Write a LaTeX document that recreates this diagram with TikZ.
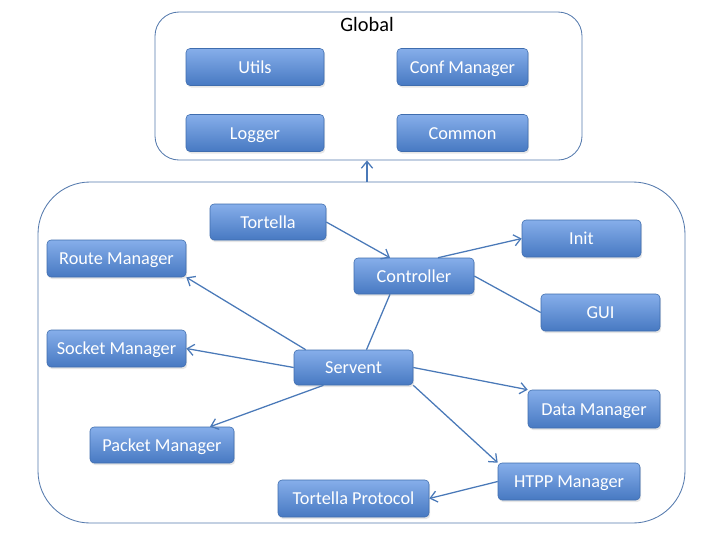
\documentclass[tikz,border=0pt]{standalone}
\usepackage{fontspec}
\setmainfont{Carlito}
\usetikzlibrary{arrows.meta,shadows}

\definecolor{boxtop}{HTML}{86AEEA}
\definecolor{boxbottom}{HTML}{4779C2}
\definecolor{boxline}{HTML}{3F6DAE}
\definecolor{linkblue}{HTML}{4A79B8}

\begin{document}
\begin{tikzpicture}
	[auto,font=\fontsize{13}{15}\selectfont]
	\tikzstyle{module}=[rectangle, rounded corners=0.1cm, draw=boxline, line width=0.4pt,
		top color=boxtop, bottom color=boxbottom, text=white,
		minimum height=0.925cm, inner sep=1pt, text height=2.1ex, text depth=0.2ex,
		drop shadow={opacity=0.2, shadow xshift=0.03cm, shadow yshift=-0.05cm}];
	\tikzstyle{group}=[rectangle, draw=linkblue!80!gray, line width=0.6pt, inner sep=0pt];
	\tikzstyle{link}=[draw=linkblue, line width=0.9pt];
	\tikzstyle{arrow}=[link, -{Straight Barb[length=1.7mm, width=2.8mm]}];

	\useasboundingbox (0,0) rectangle (18,-13.5);

	% containers
	\node[group, rounded corners=0.6cm, minimum width=10.675cm, minimum height=3.7cm] (global) at (9.2125,-2.15) {};
	\node[group, rounded corners=1.3cm, minimum width=16.175cm, minimum height=8.525cm] (main) at (9.0375,-8.8125) {};
	\node[font=\fontsize{14.5}{16}\selectfont] (globallabel) at (9.175,-0.62) {Global};

	% global modules
	\node[module, minimum width=3.45cm] (utils) at (6.375,-1.675) {Utils};
	\node[module, minimum width=3.275cm] (conf) at (11.5625,-1.675) {Conf Manager};
	\node[module, minimum width=3.45cm] (logger) at (6.375,-3.325) {Logger};
	\node[module, minimum width=3.275cm] (common) at (11.5625,-3.325) {Common};

	% main modules
	\node[module, minimum width=2.9cm, minimum height=0.9cm] (tortella) at (6.7,-5.55) {Tortella};
	\node[module, minimum width=3cm, minimum height=0.9cm] (controller) at (10.35,-6.9) {Controller};
	\node[module, minimum width=2.975cm] (init) at (14.5375,-5.9625) {Init};
	\node[module, minimum width=2.975cm] (gui) at (15.0125,-7.8125) {GUI};
	\node[module, minimum width=3.475cm] (route) at (2.9125,-6.4625) {Route Manager};
	\node[module, minimum width=3.475cm] (socket) at (2.9125,-8.7125) {Socket Manager};
	\node[module, minimum width=2.975cm, minimum height=0.875cm] (servent) at (8.8375,-9.1875) {Servent};
	\node[module, minimum width=3.3cm, minimum height=0.95cm] (data) at (14.85,-10.225) {Data Manager};
	\node[module, minimum width=3.6cm, minimum height=0.9cm] (packet) at (4.05,-11.125) {Packet Manager};
	\node[module, minimum width=3.55cm] (htpp) at (14.225,-12.0375) {HTPP Manager};
	\node[module, minimum width=3.775cm] (protocol) at (8.8375,-12.4625) {Tortella Protocol};

	\path
	(main.north -| globallabel) edge[arrow] (global.south -| globallabel)
	(tortella.east) edge[arrow] ([xshift=-0.6cm]controller.north)
	([xshift=0.6cm]controller.north) edge[arrow] (init.west)
	(controller.east) edge[link] (gui.west)
	([xshift=0.325cm]servent.north) edge[link] ([xshift=-0.6cm]controller.south)
	([xshift=0.3cm]servent.north west) edge[arrow] (route.south east)
	(servent.west) edge[arrow] (socket.east)
	([xshift=-0.75cm]servent.south) edge[arrow] ([xshift=1.2cm]packet.north)
	(servent.east) edge[arrow] (data.north west)
	(servent.south east) edge[arrow] (htpp.north west)
	(htpp.west) edge[arrow] (protocol.east);

\end{tikzpicture}
\end{document}
